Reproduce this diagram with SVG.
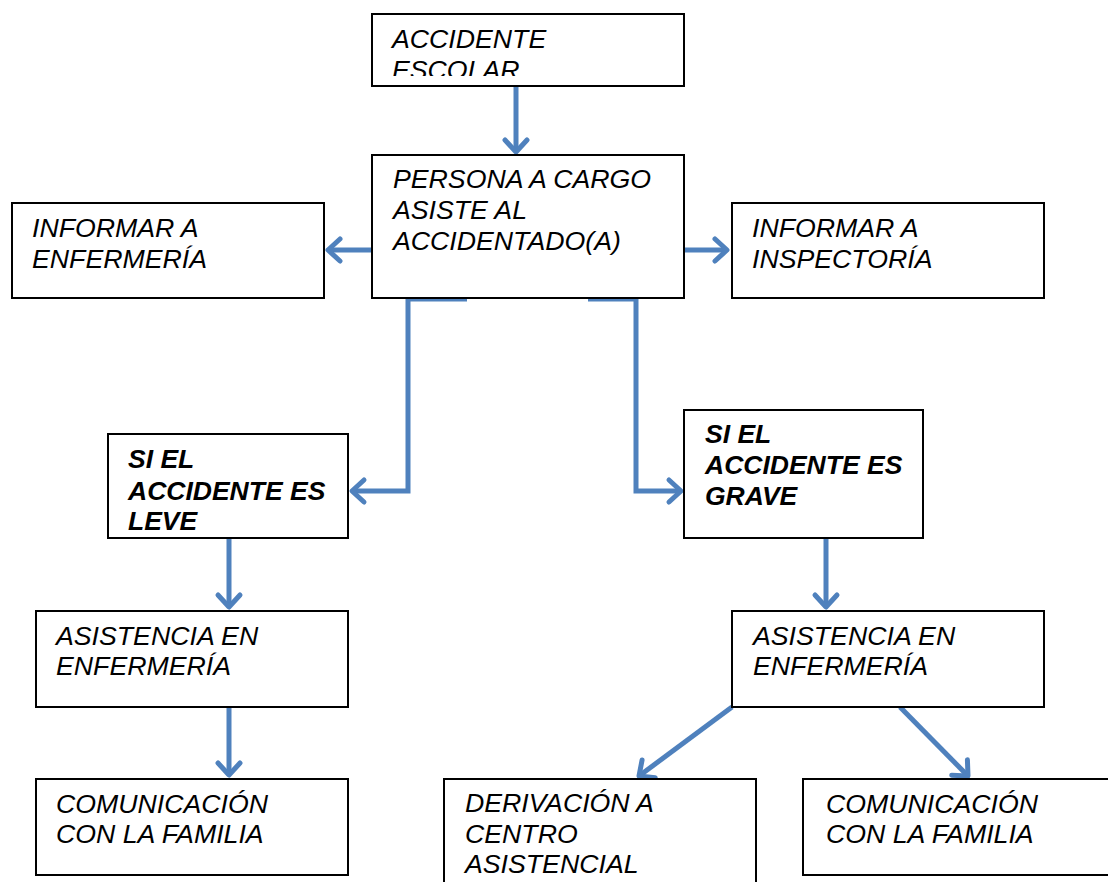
<svg xmlns="http://www.w3.org/2000/svg" width="1108" height="882" viewBox="0 0 1108 882">
<style>
.box{fill:#fff;stroke:#000;stroke-width:2}
.t{font-family:"Liberation Sans",Arial,sans-serif;font-size:26.7px;font-style:italic;fill:#000}
.b{font-weight:bold;font-size:26.5px}
.c{fill:none;stroke:#4F81BD;stroke-width:5;stroke-linecap:butt;stroke-linejoin:miter}
</style>
<defs>
<marker id="arr" markerUnits="userSpaceOnUse" viewBox="-16 -14 20 28" markerWidth="20" markerHeight="28" refX="0" refY="0" orient="auto" overflow="visible">
<path d="M-12,-11 L0,0 L-12,11" fill="none" stroke="#4F81BD" stroke-width="5" stroke-linecap="round" stroke-linejoin="round"/>
</marker>
<clipPath id="clip1"><rect x="372" y="14" width="312" height="62"/></clipPath>
</defs>
<g id="connectors">
<path class="c" d="M516,86 V152" marker-end="url(#arr)"/>
<path class="c" d="M372,250 H328" marker-end="url(#arr)"/>
<path class="c" d="M684,250 H727" marker-end="url(#arr)"/>
<path class="c" d="M467,299 H408 V491 H352" marker-end="url(#arr)"/>
<path class="c" d="M588,299 H636 V491 H681" marker-end="url(#arr)"/>
<path class="c" d="M229,538 V607" marker-end="url(#arr)"/>
<path class="c" d="M229,707 V775" marker-end="url(#arr)"/>
<path class="c" d="M826,538 V607" marker-end="url(#arr)"/>
<path class="c" d="M732,707 L639,776" marker-end="url(#arr)"/>
<path class="c" d="M900,707 L968,776" marker-end="url(#arr)"/>
</g>
<g id="n-accidente">
<rect class="box" x="372" y="14" width="312" height="72"/>
<g clip-path="url(#clip1)">
<text class="t" x="392" y="48">ACCIDENTE</text>
<text class="t" x="392" y="79">ESCOLAR</text>
</g>
</g>
<g id="n-persona">
<rect class="box" x="372" y="155" width="312" height="143"/>
<text class="t" x="393" y="188">PERSONA A CARGO</text>
<text class="t" x="393" y="219">ASISTE AL</text>
<text class="t" x="393" y="250">ACCIDENTADO(A)</text>
</g>
<g id="n-inf-enf">
<rect class="box" x="12" y="203" width="312" height="95"/>
<text class="t" x="32" y="237">INFORMAR A</text>
<text class="t" x="32" y="268">ENFERMERÍA</text>
</g>
<g id="n-inf-insp">
<rect class="box" x="732" y="203" width="312" height="95"/>
<text class="t" x="752" y="237">INFORMAR A</text>
<text class="t" x="752" y="268">INSPECTORÍA</text>
</g>
<g id="n-leve">
<rect class="box" x="108" y="434" width="240" height="104"/>
<text class="t b" x="128" y="468">SI EL</text>
<text class="t b" x="128" y="500">ACCIDENTE ES</text>
<text class="t b" x="128" y="530">LEVE</text>
</g>
<g id="n-grave">
<rect class="box" x="684" y="410" width="239" height="128"/>
<text class="t b" x="705" y="443">SI EL</text>
<text class="t b" x="705" y="474">ACCIDENTE ES</text>
<text class="t b" x="705" y="505">GRAVE</text>
</g>
<g id="n-asist-l">
<rect class="box" x="36" y="611" width="312" height="96"/>
<text class="t" x="56" y="645">ASISTENCIA EN</text>
<text class="t" x="56" y="675">ENFERMERÍA</text>
</g>
<g id="n-asist-r">
<rect class="box" x="732" y="611" width="312" height="96"/>
<text class="t" x="753" y="645">ASISTENCIA EN</text>
<text class="t" x="753" y="675">ENFERMERÍA</text>
</g>
<g id="n-com-l">
<rect class="box" x="36" y="779" width="312" height="96"/>
<text class="t" x="56" y="813">COMUNICACIÓN</text>
<text class="t" x="56" y="843">CON LA FAMILIA</text>
</g>
<g id="n-deriv">
<rect class="box" x="444" y="779" width="312" height="130"/>
<text class="t" x="465" y="812">DERIVACIÓN A</text>
<text class="t" x="465" y="843">CENTRO</text>
<text class="t" x="465" y="873">ASISTENCIAL</text>
</g>
<g id="n-com-r">
<rect class="box" x="803" y="779" width="320" height="96"/>
<text class="t" x="826" y="813">COMUNICACIÓN</text>
<text class="t" x="826" y="843">CON LA FAMILIA</text>
</g>
</svg>
